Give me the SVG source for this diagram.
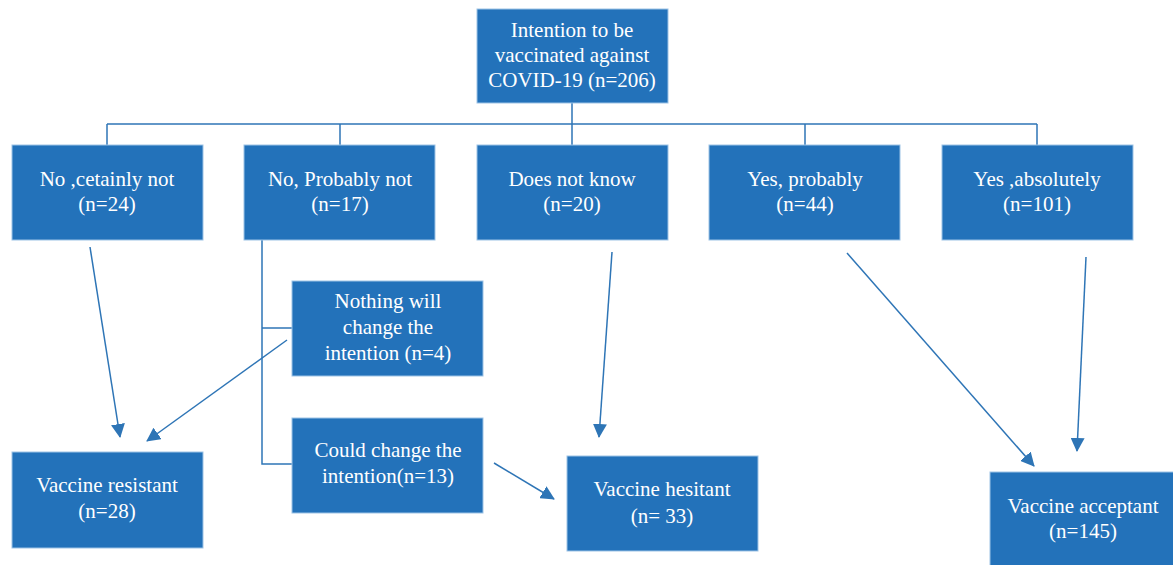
<svg xmlns="http://www.w3.org/2000/svg" width="1173" height="565" viewBox="0 0 1173 565">
<style>
.box{fill:#2372BA;stroke:#9DC3E6;stroke-width:1}
.t{font-family:"Liberation Serif","DejaVu Serif",serif;font-size:21px;fill:#ffffff;text-anchor:middle}
.ln{stroke:#2E75B6;stroke-width:1.5;fill:none}
</style>
<defs>
<marker id="ah" markerWidth="14" markerHeight="14" viewBox="0 0 14 14" refX="13" refY="7" orient="auto" markerUnits="userSpaceOnUse">
<path d="M0,0 L14,7 L0,14 Z" fill="#2E75B6"/>
</marker>
</defs>
<rect width="1173" height="565" fill="#ffffff"/>
<g id="connectors">
<line class="ln" x1="572" y1="103" x2="572" y2="145"/>
<line class="ln" x1="107" y1="124" x2="1037" y2="124"/>
<line class="ln" x1="107" y1="124" x2="107" y2="145"/>
<line class="ln" x1="340" y1="124" x2="340" y2="145"/>
<line class="ln" x1="805" y1="124" x2="805" y2="145"/>
<line class="ln" x1="1037" y1="124" x2="1037" y2="145"/>
<polyline class="ln" points="262,240 262,464 292,464"/>
<line class="ln" x1="262" y1="328" x2="292" y2="328"/>
<line class="ln" x1="90" y1="247" x2="120" y2="437" marker-end="url(#ah)"/>
<line class="ln" x1="287" y1="340" x2="147" y2="441" marker-end="url(#ah)"/>
<line class="ln" x1="612" y1="252" x2="599" y2="437" marker-end="url(#ah)"/>
<line class="ln" x1="494" y1="463" x2="554" y2="499" marker-end="url(#ah)"/>
<line class="ln" x1="847" y1="253" x2="1034" y2="466" marker-end="url(#ah)"/>
<line class="ln" x1="1086" y1="257" x2="1077" y2="451" marker-end="url(#ah)"/>
</g>
<g id="n_top"><rect class="box" x="477" y="9" width="191" height="94"/>
<text class="t" x="572" y="37">Intention to be</text>
<text class="t" x="572" y="62">vaccinated against</text>
<text class="t" x="572" y="87">COVID-19 (n=206)</text></g>
<g id="n_no_cert"><rect class="box" x="12" y="145" width="191" height="95"/>
<text class="t" x="107" y="186">No ,cetainly not</text>
<text class="t" x="107" y="211">(n=24)</text></g>
<g id="n_no_prob"><rect class="box" x="244" y="145" width="191" height="95"/>
<text class="t" x="340" y="186">No, Probably not</text>
<text class="t" x="340" y="211">(n=17)</text></g>
<g id="n_dnk"><rect class="box" x="477" y="145" width="191" height="95"/>
<text class="t" x="572" y="186">Does not know</text>
<text class="t" x="572" y="211">(n=20)</text></g>
<g id="n_yes_prob"><rect class="box" x="709" y="145" width="191" height="95"/>
<text class="t" x="805" y="186">Yes, probably</text>
<text class="t" x="805" y="211">(n=44)</text></g>
<g id="n_yes_abs"><rect class="box" x="942" y="145" width="191" height="95"/>
<text class="t" x="1037" y="186">Yes ,absolutely</text>
<text class="t" x="1037" y="211">(n=101)</text></g>
<g id="n_nothing"><rect class="box" x="292" y="281" width="191" height="95"/>
<text class="t" x="388" y="308">Nothing will</text>
<text class="t" x="388" y="334">change the</text>
<text class="t" x="388" y="360">intention (n=4)</text></g>
<g id="n_could"><rect class="box" x="292" y="418" width="191" height="95"/>
<text class="t" x="388" y="457">Could change the</text>
<text class="t" x="388" y="483">intention(n=13)</text></g>
<g id="n_resistant"><rect class="box" x="12" y="452" width="191" height="96"/>
<text class="t" x="107" y="492">Vaccine resistant</text>
<text class="t" x="107" y="518">(n=28)</text></g>
<g id="n_hesitant"><rect class="box" x="567" y="456" width="191" height="95"/>
<text class="t" x="662" y="496">Vaccine hesitant</text>
<text class="t" x="662" y="523">(n= 33)</text></g>
<g id="n_acceptant"><rect class="box" x="990" y="472" width="190" height="100"/>
<text class="t" x="1083" y="513">Vaccine acceptant</text>
<text class="t" x="1083" y="538">(n=145)</text></g>
</svg>
